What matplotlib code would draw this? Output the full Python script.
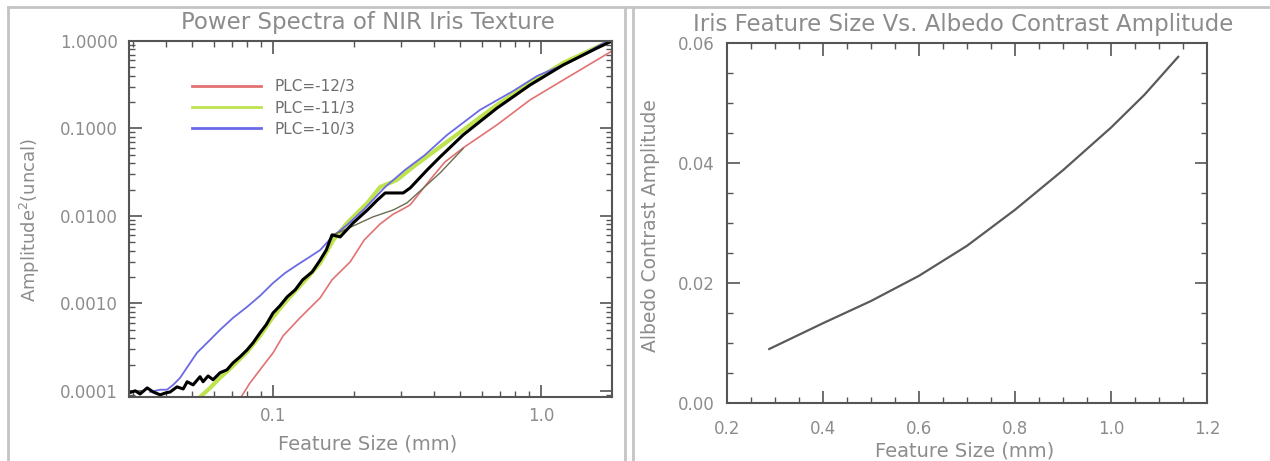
import numpy as np
import matplotlib.pyplot as plt
from matplotlib.lines import Line2D
from matplotlib.ticker import LogLocator, MultipleLocator, FixedLocator, NullFormatter

# ---- left panel: power spectra
blk_x = [0.0290, 0.0306, 0.0319, 0.0339, 0.0357, 0.0379, 0.0399, 0.0413, 0.0438, 0.0462,
         0.0478, 0.0503, 0.0534, 0.0548, 0.0572, 0.0597, 0.0634, 0.0673, 0.0709, 0.0753,
         0.0800, 0.0842, 0.0894, 0.0942, 0.100, 0.106, 0.113, 0.121, 0.129, 0.140,
         0.150, 0.158, 0.166, 0.178, 0.199, 0.225, 0.245, 0.262, 0.285, 0.306,
         0.325, 0.376, 0.420, 0.512, 0.685, 0.910, 1.21, 1.62, 1.84]
blk_y = [9.5e-5, 1.0e-4, 9.2e-5, 1.08e-4, 9.7e-5, 9.0e-5, 9.5e-5, 9.7e-5, 1.11e-4, 1.05e-4,
         1.27e-4, 1.17e-4, 1.45e-4, 1.27e-4, 1.48e-4, 1.34e-4, 1.61e-4, 1.74e-4, 2.09e-4, 2.45e-4,
         2.94e-4, 3.54e-4, 4.60e-4, 5.68e-4, 7.78e-4, 9.36e-4, 1.19e-3, 1.43e-3, 1.86e-3, 2.29e-3,
         3.14e-3, 4.08e-3, 6.07e-3, 5.75e-3, 8.32e-3, 1.17e-2, 1.52e-2, 1.83e-2, 1.83e-2, 1.83e-2,
         2.09e-2, 3.36e-2, 4.72e-2, 8.43e-2, 0.171, 0.314, 0.532, 0.832, 1.0]

grn_x = [0.0534, 0.0582, 0.0634, 0.0709, 0.0800, 0.0894, 0.100, 0.113, 0.129, 0.150,
         0.168, 0.189, 0.225, 0.251, 0.290, 0.333, 0.420, 0.512, 0.685, 0.910,
         1.21, 1.62, 1.84]
grn_y = [8.5e-5, 1.08e-4, 1.41e-4, 1.93e-4, 2.79e-4, 4.25e-4, 7.01e-4, 1.10e-3, 1.71e-3, 2.90e-3,
         5.32e-3, 8.32e-3, 1.41e-2, 2.14e-2, 2.58e-2, 3.63e-2, 6.15e-2, 9.6e-2, 0.186, 0.331,
         0.561, 0.854, 1.03]

thin_x = [0.166, 0.178, 0.236, 0.281, 0.316, 0.420, 0.512]
thin_y = [6.07e-3, 6.56e-3, 9.75e-3, 1.17e-2, 1.41e-2, 3.10e-2, 5.9e-2]

red_x = [0.0760, 0.0820, 0.0894, 0.100, 0.109, 0.126, 0.150, 0.166, 0.194, 0.219,
         0.251, 0.281, 0.301, 0.325, 0.385, 0.438, 0.512, 0.685, 0.910, 1.21, 1.84]
red_y = [8.5e-5, 1.23e-4, 1.74e-4, 2.72e-4, 4.25e-4, 6.83e-4, 1.16e-3, 1.86e-3, 2.98e-3, 5.32e-3,
         8.1e-3, 1.05e-2, 1.17e-2, 1.34e-2, 2.58e-2, 4.14e-2, 5.99e-2, 0.110, 0.212, 0.358, 0.769]

blu_x = [0.0348, 0.0379, 0.0402, 0.0424, 0.0450, 0.0482, 0.0520, 0.0572, 0.0634, 0.0709,
         0.0800, 0.0894, 0.100, 0.111, 0.123, 0.137, 0.150, 0.166, 0.189, 0.219,
         0.262, 0.311, 0.369, 0.446, 0.592, 0.787, 0.966, 1.28, 1.66, 1.84]
blu_y = [9.7e-5, 1.03e-4, 1.03e-4, 1.17e-4, 1.41e-4, 1.93e-4, 2.72e-4, 3.63e-4, 4.98e-4, 6.83e-4,
         9.12e-4, 1.22e-3, 1.71e-3, 2.23e-3, 2.75e-3, 3.40e-3, 4.08e-3, 5.75e-3, 7.89e-3, 1.20e-2,
         2.14e-2, 3.36e-2, 4.98e-2, 8.43e-2, 0.163, 0.268, 0.398, 0.575, 0.90, 1.05]

ytick_vals = [0.0001, 0.001, 0.01, 0.1, 1.0]
ytick_labels = ['0.0001', '0.0010', '0.0100', '0.1000', '1.0000']
xtick_vals = [0.1, 1.0]
xtick_labels = ['0.1', '1.0']

# ---- right panel: feature size vs albedo contrast
fs = [0.288, 0.400, 0.500, 0.600, 0.700, 0.800, 0.900, 1.000, 1.070, 1.140]
alb = [0.0090, 0.0133, 0.0170, 0.0212, 0.0262, 0.0322, 0.0388, 0.0459, 0.0514, 0.0577]

axcol = '#555555'
txtcol = '#8c8c8c'

fig = plt.figure(figsize=(12.7, 4.61), dpi=100)

# cell frame lines
for xs, ys in [([8/1270, 8/1270], [0, 1-7/461]), ([8/1270, 1], [1-7/461, 1-7/461]),
               ([625/1270, 625/1270], [0, 1-7/461]), ([633/1270, 633/1270], [0, 1-7/461])]:
    fig.add_artist(Line2D(xs, ys, transform=fig.transFigure, color='#c4c4c4', lw=2))

ax1 = fig.add_axes([129/1270, 1-397/461, 483/1270, 356/461])
ax1.plot(red_x, red_y, color='#e27272', lw=1.2, label='PLC=-12/3')
ax1.plot(grn_x, grn_y, color='#bfe34e', lw=3.0, label='PLC=-11/3')
ax1.plot(blu_x, blu_y, color='#6a6ae6', lw=1.3, label='PLC=-10/3')
ax1.plot(thin_x, thin_y, color='#6b6b50', lw=1.0)
ax1.plot(blk_x, blk_y, color='black', lw=2.2)
ax1.set_xscale('log')
ax1.set_yscale('log')
ax1.set_xlim(0.029, 1.84)
ax1.set_ylim(8.5e-5, 1.0)
ax1.yaxis.set_major_locator(FixedLocator(ytick_vals))
ax1.set_yticklabels(ytick_labels)
ax1.xaxis.set_major_locator(FixedLocator(xtick_vals))
ax1.set_xticklabels(xtick_labels)
ax1.xaxis.set_minor_locator(LogLocator(base=10, subs=np.arange(2, 10)))
ax1.yaxis.set_minor_locator(LogLocator(base=10, subs=np.arange(2, 10), numticks=20))
ax1.xaxis.set_minor_formatter(NullFormatter())
ax1.yaxis.set_minor_formatter(NullFormatter())
ax1.tick_params(which='major', direction='in', length=9, width=1.2, color=axcol,
                top=True, right=True, labelsize=12, labelcolor=txtcol)
ax1.tick_params(axis='y', which='major', pad=8)
ax1.tick_params(axis='x', which='major', pad=7)
ax1.tick_params(which='minor', direction='in', length=4.5, width=1.0, color=axcol,
                top=True, right=True)
ax1.set_xlabel('Feature Size (mm)', fontsize=14, color=txtcol)
ax1.set_ylabel('Amplitude$^2$(uncal)', fontsize=13, color=txtcol)
ax1.xaxis.set_label_coords(0.495, -0.105)
ax1.yaxis.set_label_coords(-0.180, 0.497)
ax1.text(0.495, 1.053, 'Power Spectra of NIR Iris Texture', transform=ax1.transAxes,
         ha='center', va='center', fontsize=16.5, color=txtcol)
leg = ax1.legend(loc='upper left', bbox_to_anchor=(0.130, 0.892), frameon=False,
                 borderaxespad=0, borderpad=0, handlelength=4.5, handletextpad=0.9,
                 labelspacing=0.4, fontsize=11)
for t in leg.get_texts():
    t.set_color('#6e6e6e')
for h in leg.get_lines():
    h.set_linewidth(2.0)

ax2 = fig.add_axes([727/1270, 1-403/461, 480/1270, 360/461])
ax2.plot(fs, alb, color='#5a5a5a', lw=1.6)
ax2.set_xlim(0.2, 1.2)
ax2.set_ylim(0, 0.06)
ax2.xaxis.set_major_locator(MultipleLocator(0.2))
ax2.xaxis.set_minor_locator(MultipleLocator(0.05))
ax2.yaxis.set_major_locator(MultipleLocator(0.02))
ax2.yaxis.set_minor_locator(MultipleLocator(0.005))
ax2.xaxis.set_major_formatter(plt.FormatStrFormatter('%.1f'))
ax2.yaxis.set_major_formatter(plt.FormatStrFormatter('%.2f'))
ax2.tick_params(which='major', direction='in', length=9, width=1.2, color=axcol,
                top=True, right=True, labelsize=12, labelcolor=txtcol)
ax2.tick_params(axis='y', which='major', pad=9)
ax2.tick_params(axis='x', which='major', pad=12)
ax2.tick_params(which='minor', direction='in', length=4.5, width=1.0, color=axcol,
                top=True, right=True)
ax2.set_xlabel('Feature Size (mm)', fontsize=14, color=txtcol)
ax2.set_ylabel('Albedo Contrast Amplitude', fontsize=13.5, color=txtcol)
ax2.xaxis.set_label_coords(0.496, -0.108)
ax2.yaxis.set_label_coords(-0.140, 0.494)
ax2.text(0.492, 1.05, 'Iris Feature Size Vs. Albedo Contrast Amplitude', transform=ax2.transAxes,
         ha='center', va='center', fontsize=16.5, color=txtcol)

for ax in (ax1, ax2):
    for s in ax.spines.values():
        s.set_color(axcol)
        s.set_linewidth(1.5)

fig.savefig('out.png', dpi=100)
